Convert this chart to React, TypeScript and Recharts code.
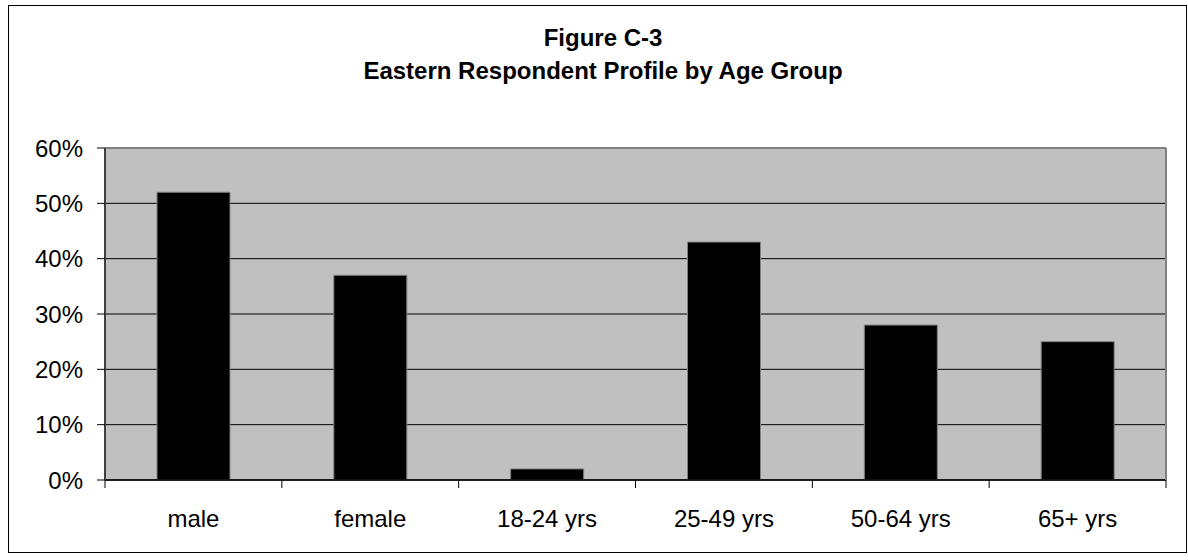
import React from "react";
import {
  BarChart,
  Bar,
  XAxis,
  YAxis,
  CartesianGrid,
  ReferenceLine,
} from "recharts";

const W = 1188;
const H = 560;
const FONT = "'Liberation Sans', Arial, sans-serif";

const PLOT_BG = "#C0C0C0";
const FRAME = "#808080";
const AXIS = "#404040";

// respondent shares, as fractions
const groups = ["male", "female", "18-24 yrs", "25-49 yrs", "50-64 yrs", "65+ yrs"];
const shares = [0.52, 0.37, 0.02, 0.43, 0.28, 0.25];
const yTicks = [0, 0.1, 0.2, 0.3, 0.4, 0.5, 0.6];

const titleLines = ["Figure C-3", "Eastern Respondent Profile by Age Group"];

const data = groups.map((g, i) => ({ name: g, value: shares[i] }));

const pct = (v: number) => `${Math.round(v * 100)}%`;

// category label plus Excel-style tick marks on the band edges
const CategoryTick = (props: any) => {
  const { x, y, payload, index } = props;
  const half = payload?.offset ?? 0;
  const last = index === groups.length - 1;
  return (
    <g>
      <line x1={x - half} x2={x - half} y1={y} y2={y + 8} stroke="#000" />
      {last && <line x1={x + half} x2={x + half} y1={y} y2={y + 8} stroke="#000" />}
      <text
        x={x}
        y={y + 30}
        dy="0.71em"
        textAnchor="middle"
        fontSize={24}
        fontFamily={FONT}
        fill="#000"
      >
        {payload.value}
      </text>
    </g>
  );
};

export default function App() {
  return (
    <div style={{ position: "fixed", left: 0, top: 0, width: W, height: H, background: "#fff" }}>
      <div
        style={{
          position: "absolute",
          left: 8,
          top: 5,
          width: 1177,
          height: 546,
          border: "1.5px solid #000",
        }}
      />
      <svg width={W} height={120} style={{ position: "absolute", left: 0, top: 0 }}>
        {titleLines.map((t, i) => (
          <text
            key={t}
            x={603}
            y={46 + i * 33}
            textAnchor="middle"
            fontFamily={FONT}
            fontWeight="bold"
            fontSize={24}
            fill="#000"
          >
            {t}
          </text>
        ))}
      </svg>
      <div style={{ position: "absolute", left: 0, top: 0 }}>
        <BarChart
          width={W}
          height={H}
          data={data}
          margin={{ top: 148, right: 0, bottom: 0, left: 0 }}
        >
          <CartesianGrid
            vertical={false}
            stroke="#000"
            fill={PLOT_BG}
            fillOpacity={1}
          />
          <XAxis
            dataKey="name"
            tickLine={false}
            axisLine={{ stroke: "#000", strokeWidth: 1.5 }}
            tickSize={0}
            tickMargin={0}
            height={80}
            tick={CategoryTick}
            interval={0}
          />
          <YAxis
            domain={[0, 0.6]}
            ticks={yTicks}
            tickFormatter={pct}
            width={105}
            tickSize={8}
            tickMargin={14}
            tickLine={{ stroke: "#000" }}
            axisLine={{ stroke: AXIS, strokeWidth: 2 }}
            tick={{ fontSize: 24, fill: "#000", fontFamily: FONT }}
          />
          <YAxis
            yAxisId="frame"
            orientation="right"
            domain={[0, 0.6]}
            width={22}
            tick={false}
            tickLine={false}
            axisLine={{ stroke: FRAME, strokeWidth: 2 }}
          />
          <ReferenceLine y={0.6} stroke={FRAME} strokeWidth={2} />
          <Bar
            dataKey="value"
            fill="#000"
            stroke={FRAME}
            strokeWidth={1}
            barSize={73}
            isAnimationActive={false}
          />
        </BarChart>
      </div>
    </div>
  );
}
